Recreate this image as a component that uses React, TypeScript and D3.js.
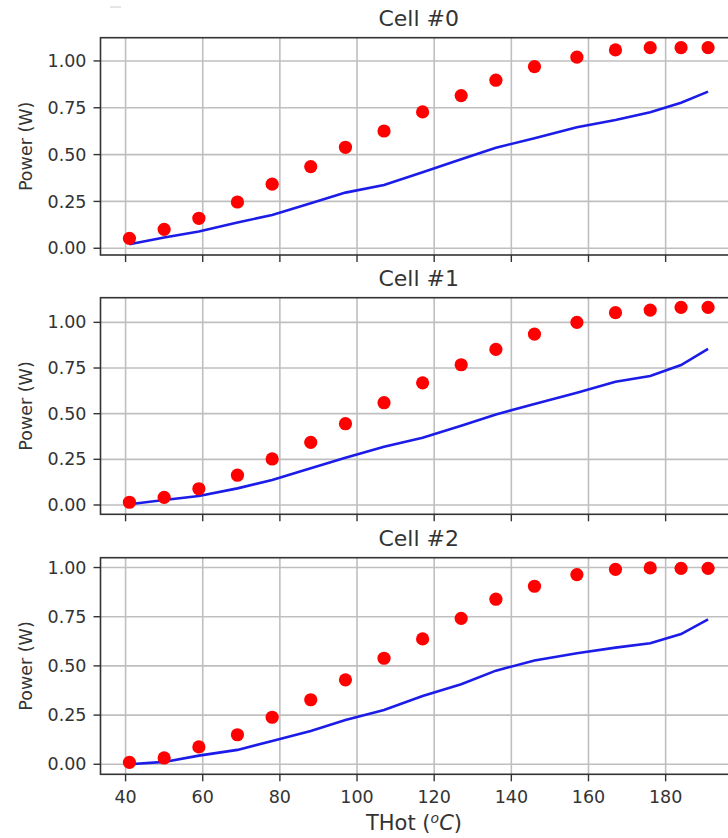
import React from 'react';
import * as d3 from 'd3';

// temperatures (x) shared by all three cells
const tHot = [41, 50, 59, 69, 78, 88, 97, 107, 117, 127, 136, 146, 157, 167, 176, 184, 191];

// measured power (red dots)
const measured0 = [0.053, 0.101, 0.16, 0.247, 0.342, 0.436, 0.539, 0.626, 0.728, 0.815, 0.897, 0.97, 1.02, 1.059, 1.071, 1.071, 1.071];
const measured1 = [0.015, 0.042, 0.089, 0.163, 0.252, 0.343, 0.445, 0.56, 0.669, 0.768, 0.852, 0.936, 1.0, 1.053, 1.067, 1.082, 1.082];
const measured2 = [0.01, 0.032, 0.088, 0.15, 0.239, 0.328, 0.429, 0.539, 0.637, 0.742, 0.839, 0.905, 0.964, 0.991, 0.998, 0.996, 0.996];

// model power (blue line)
const model0 = [0.021, 0.057, 0.089, 0.137, 0.178, 0.24, 0.297, 0.338, 0.406, 0.475, 0.537, 0.587, 0.646, 0.685, 0.726, 0.777, 0.836];
const model1 = [0.004, 0.027, 0.049, 0.091, 0.137, 0.201, 0.259, 0.319, 0.368, 0.434, 0.496, 0.553, 0.615, 0.675, 0.706, 0.766, 0.855];
const model2 = [0.0, 0.012, 0.044, 0.073, 0.118, 0.169, 0.225, 0.276, 0.347, 0.407, 0.476, 0.527, 0.564, 0.593, 0.615, 0.662, 0.737];

const titles = ['Cell #0', 'Cell #1', 'Cell #2'];
const xTicks = [40, 60, 80, 100, 120, 140, 160, 180];
const yTicks = [0, 0.25, 0.5, 0.75, 1.0];

const panels = [
  { title: titles[0], dots: measured0, line: model0, top: 37.7, bottom: 255, yDomain: [-0.036, 1.124] },
  { title: titles[1], dots: measured1, line: model1, top: 297.7, bottom: 514.3, yDomain: [-0.051, 1.135] },
  { title: titles[2], dots: measured2, line: model2, top: 557.7, bottom: 774.3, yDomain: [-0.051, 1.05] },
];

const font = '"DejaVu Sans", sans-serif';
const textColor = '#333';
const left = 100.5;
const right = 737;

const x = d3.scaleLinear().domain([33.5, 198.5]).range([left, right]);

const Panel = ({ p, showX }: any) => {
  const y = d3.scaleLinear().domain(p.yDomain).range([p.bottom, p.top]);
  const line = d3.line<number>()
    .x((_, i) => x(tHot[i]))
    .y(d => y(d));
  const midY = (p.top + p.bottom) / 2;
  return (
    <g>
      <text x={(left + right) / 2} y={p.top - 11.5} textAnchor="middle" fontSize={22} fill={textColor} fontFamily={font}>{p.title}</text>
      {/* grid */}
      {xTicks.map(t => (
        <line key={'gx' + t} x1={x(t)} x2={x(t)} y1={p.top} y2={p.bottom} stroke="#bfbfbf" strokeWidth={1.6} />
      ))}
      {yTicks.map(t => (
        <line key={'gy' + t} x1={left} x2={right} y1={y(t)} y2={y(t)} stroke="#bfbfbf" strokeWidth={1.6} />
      ))}
      {/* model line */}
      <path d={line(p.line) || ''} fill="none" stroke="#1c1ce8" strokeWidth={2.6} />
      {/* measured dots */}
      {p.dots.map((v: number, i: number) => (
        <circle key={'d' + i} cx={x(tHot[i])} cy={y(v)} r={6.6} fill="#ff0000" />
      ))}
      {/* spines */}
      <rect x={left} y={p.top} width={right - left} height={p.bottom - p.top} fill="none" stroke="#333" strokeWidth={1.6} />
      {/* y ticks */}
      {yTicks.map(t => (
        <g key={'ty' + t}>
          <line x1={left - 7} x2={left} y1={y(t)} y2={y(t)} stroke="#333" strokeWidth={1.4} />
          <text x={left - 14} y={y(t)} dy="0.35em" textAnchor="end" fontSize={17.5} fill={textColor} fontFamily={font}>{t.toFixed(2)}</text>
        </g>
      ))}
      {/* x ticks */}
      {xTicks.map(t => (
        <g key={'tx' + t}>
          <line x1={x(t)} x2={x(t)} y1={p.bottom} y2={p.bottom + 7} stroke="#333" strokeWidth={1.4} />
          {showX && (
            <text x={x(t)} y={p.bottom + 29} textAnchor="middle" fontSize={17.5} fill={textColor} fontFamily={font}>{t}</text>
          )}
        </g>
      ))}
      <text transform={`translate(26,${midY}) rotate(-90)`} dy="0.35em" textAnchor="middle" fontSize={17.5} fill={textColor} fontFamily={font}>Power (W)</text>
    </g>
  );
};

export default function App() {
  return (
    <svg width={728} height={838} style={{ position: 'absolute', left: 0, top: 0, background: '#fff' }}>
      <rect width={728} height={838} fill="#fff" />
      <line x1={110} x2={121} y1={7} y2={7} stroke="#ccc" strokeWidth={1} />
      {panels.map((p, i) => (
        <Panel key={i} p={p} showX={i === 2} />
      ))}
      <text x={414} y={830} textAnchor="middle" fontSize={21} fill={textColor} fontFamily={font}>
        THot (<tspan fontStyle="italic" fontSize={14} dy={-7}>o</tspan><tspan fontStyle="italic" dy={7}>C</tspan>)
      </text>
    </svg>
  );
}
